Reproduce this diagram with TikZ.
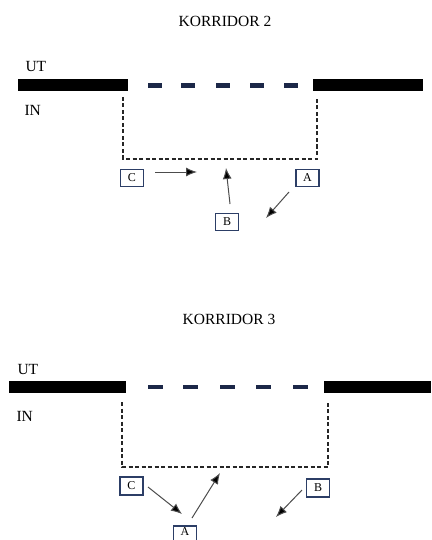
\documentclass[tikz,border=0pt]{standalone}
\usepackage{fontspec}
\setmainfont{Liberation Serif}
\usetikzlibrary{arrows.meta}
\definecolor{navy}{RGB}{28,40,72}
\definecolor{boxblue}{RGB}{44,62,102}
\tikzset{
  wall/.style={fill=black, draw=none},
  doorline/.style={draw=navy, line width=4.5pt},
  zone/.style={draw=black!85, line width=1.4pt, dash pattern=on 4pt off 2.5pt},
  title/.style={font=\fontsize{15.5}{18}\selectfont},
  side/.style={font=\fontsize{15.5}{18}\selectfont, anchor=west},
  tag/.style={draw=boxblue, line width=1.4pt, minimum width=23pt, minimum height=17pt,
              inner sep=0pt, font=\fontsize{12}{13}\selectfont},
  flow/.style={draw=black!70, line width=1pt, -{Latex[length=11pt,width=9pt,fill=black]}}
}
\begin{document}
\begin{tikzpicture}[x=1pt, y=-1pt]
\useasboundingbox (0,0) rectangle (431,540);
\clip (0,0) rectangle (431,540);

% ---------- Korridor 2 ----------
\node[title] (t2) at (225,21) {KORRIDOR 2};
\node[side] (ut2) at (22,67) {UT};
\node[side] (in2) at (21,110) {IN};
\fill[wall] (18,79) rectangle (128,91);
\fill[wall] (313,79) rectangle (423,91);
\foreach \a in {148,181,216,250,284}
  \draw[doorline] (\a,85.5) -- ++(14,0);
\draw[zone] (123,97) -- (123,159) -- (317,159) -- (317,97);

\node[tag] (c2) at (132,178) {C};
\node[tag] (a2) at (307.5,178) {A};
\node[tag] (b2) at (227,222) {B};
\coordinate (c2s) at (155,172);
\coordinate (c2e) at (197,172);
\coordinate (b2s) at (230,204);
\coordinate (b2e) at (226,168);
\coordinate (a2s) at (289,192);
\coordinate (a2e) at (266,218);
\draw[flow] (c2s) -- (c2e);
\draw[flow] (b2s) -- (b2e);
\draw[flow] (a2s) -- (a2e);

% ---------- Korridor 3 ----------
\node[title] (t3) at (229,319) {KORRIDOR 3};
\node[side] (ut3) at (14,369) {UT};
\node[side] (in3) at (13,416) {IN};
\fill[wall] (9,381) rectangle (126,393);
\fill[wall] (324,381) rectangle (431,393);
\foreach \a in {148,183,220,256,293}
  \draw[doorline] (\a,387) -- ++(14.5,0);
\draw[zone] (122,402) -- (122,467) -- (328,467) -- (328,402);

\node[tag, minimum height=18pt] (c3) at (131.5,486) {C};
\node[tag, minimum height=18pt] (b3) at (318,488) {B};
% the lower tag runs off the page edge; its letter sits high enough to stay whole
\node[tag, minimum height=18pt] (a3) at (185,535) {};
\node[font=\fontsize{12}{13}\selectfont, inner sep=0pt] (a3t) at (185,532) {A};
\coordinate (c3s) at (148,487);
\coordinate (c3e) at (182,514);
\coordinate (a3s) at (192,518);
\coordinate (a3e) at (220,473);
\coordinate (b3s) at (302,490);
\coordinate (b3e) at (276,517);
\draw[flow] (c3s) -- (c3e);
\draw[flow] (a3s) -- (a3e);
\draw[flow] (b3s) -- (b3e);
\end{tikzpicture}
\end{document}
